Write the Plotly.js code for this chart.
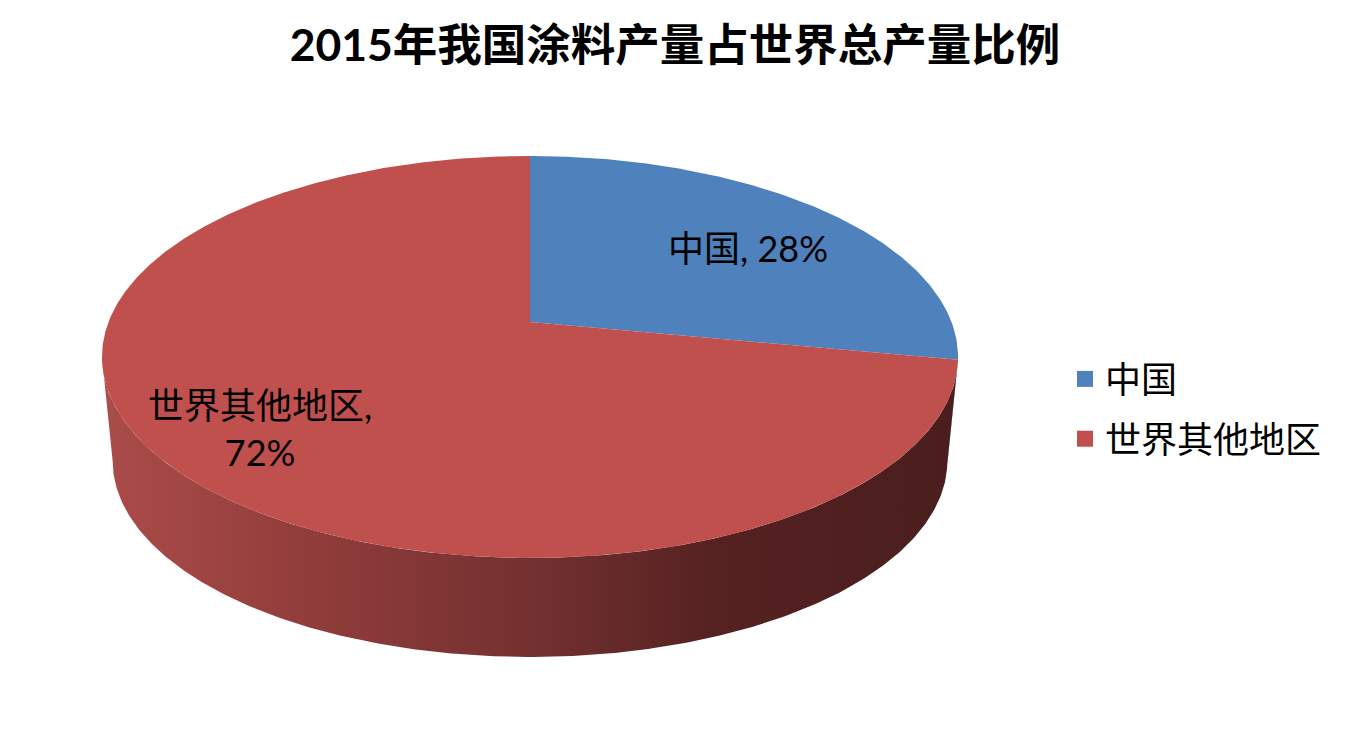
<!DOCTYPE html>
<html>
<head>
<meta charset="utf-8">
<script src="https://cdn.plot.ly/plotly-3.0.1.min.js"></script>
<style>
  html, body { margin: 0; padding: 0; background: #ffffff; }
  #chart { width: 1350px; height: 742px; }
</style>
</head>
<body>
<div id="chart"></div>
<script>
// 2015 coating output: China vs. rest of world (share, %)
const categories = ['中国', '世界其他地区'];
const shares = [28, 72];
const topColors = ['#4F81BD', '#C0504D'];
const chartTitle = '2015年我国涂料产量占世界总产量比例';

// ---- tilted-disc projection (pixel space of the plot area) ----
const CX = 530;          // screen x of the disc centre
const CY = 322;          // screen y of the disc centre (top face)
const RX = 421.5;        // horizontal radius factor
const BK = -138.84;      // vertical perspective term
const PK = 0.1741;       // perspective divisor term
const BOTTOM_SCALE = 0.975;
const VANISH_Y = 4518;   // vertical vanishing point used for the lower rim

function topPoint(deg) {
  const t = deg * Math.PI / 180;
  const u = Math.sin(t), v = Math.cos(t);
  const w = 1 + PK * v;
  return [CX + RX * u / w, (CY + BK * v) / w];
}
function bottomPoint(deg) {
  const [x, y] = topPoint(deg);
  return [CX + BOTTOM_SCALE * (x - CX), VANISH_Y + BOTTOM_SCALE * (y - VANISH_Y)];
}
function arc(fn, a, b) {
  const pts = [];
  const n = Math.max(2, Math.ceil(Math.abs(b - a) / 0.5));
  for (let i = 0; i <= n; i++) pts.push(fn(a + (b - a) * i / n));
  return pts;
}

// slice angle ranges, clockwise from 12 o'clock
const total = shares.reduce((s, v) => s + v, 0);
const ranges = [];
let acc = 0;
shares.forEach(v => {
  const a = acc / total * 360;
  acc += v;
  ranges.push([a, acc / total * 360]);
});

// the rim is visible between the two silhouette angles
const silR = Math.acos(-PK) * 180 / Math.PI;
const silL = 360 - silR;

const traces = [];

// rim walls (drawn first, underneath the top faces)
ranges.forEach((r, i) => {
  const a = Math.max(r[0], silR), b = Math.min(r[1], silL);
  if (b <= a) return;
  const upper = arc(topPoint, a, b);
  const lower = arc(bottomPoint, b, a);
  const pts = upper.concat(lower);
  pts.push(upper[0]);
  const dark = i === 0
    ? [[0, '#3E6694'], [1, '#223A56']]
    : [[0, '#AA4C49'], [0.25, '#8F3C3A'], [0.5, '#733030'], [0.72, '#552121'], [1, '#4A1E1E']];
  traces.push({
    type: 'scatter', mode: 'lines',
    x: pts.map(p => p[0]), y: pts.map(p => p[1]),
    fill: 'toself',
    fillcolor: dark[dark.length - 1][1],
    fillgradient: { type: 'horizontal', colorscale: dark, start: 110, stop: 960 },
    line: { width: 0 },
    hoverinfo: 'skip', showlegend: false
  });
});

// top faces
ranges.forEach((r, i) => {
  const pts = [[CX, CY]].concat(arc(topPoint, r[0], r[1]));
  pts.push([CX, CY]);
  traces.push({
    type: 'scatter', mode: 'lines',
    x: pts.map(p => p[0]), y: pts.map(p => p[1]),
    fill: 'toself', fillcolor: topColors[i],
    line: { width: 0 },
    hoverinfo: 'skip', showlegend: false
  });
});

// legend entries
categories.forEach((c, i) => {
  traces.push({
    type: 'scatter', mode: 'markers',
    x: [null], y: [null],
    name: c,
    legendgroup: 'g' + i,
    marker: { symbol: 'square', size: 18, color: topColors[i] },
    hoverinfo: 'skip', showlegend: true
  });
});

// data labels
const labelFont = { family: 'Lato, "Noto Sans CJK SC", sans-serif', size: 36, color: '#000000' };
const labelPos = [[748, 248], [260, 428]];
const labelJoin = [' ', '<br>'];
const annotations = categories.map((c, i) => ({
  xref: 'x', yref: 'y',
  x: labelPos[i][0], y: labelPos[i][1],
  text: c + ',' + labelJoin[i] + shares[i] + '%',
  showarrow: false, font: labelFont,
  xanchor: 'center', yanchor: 'middle', align: 'center'
}));

const layout = {
  width: 1350, height: 742,
  margin: { l: 0, r: 0, t: 0, b: 0 },
  paper_bgcolor: '#ffffff', plot_bgcolor: '#ffffff',
  title: {
    text: chartTitle,
    font: { family: 'Lato, "Noto Sans CJK SC", sans-serif', size: 44.5, color: '#000000', weight: 'bold' },
    x: 0.5, xanchor: 'center',
    y: 1 - 45 / 742, yanchor: 'middle'
  },
  xaxis: { range: [0, 1350], visible: false, fixedrange: true },
  yaxis: { range: [742, 0], visible: false, fixedrange: true },
  showlegend: true,
  legend: {
    x: 1065 / 1350, xanchor: 'left',
    y: 1 - 349 / 742, yanchor: 'top',
    traceorder: 'grouped', tracegroupgap: 10,
    font: { family: '"Noto Sans CJK SC", sans-serif', size: 36, color: '#000000' },
    bgcolor: 'rgba(0,0,0,0)'
  },
  annotations: annotations,
  hovermode: false
};

Plotly.newPlot('chart', traces, layout, { staticPlot: true, displayModeBar: false });
</script>
</body>
</html>
